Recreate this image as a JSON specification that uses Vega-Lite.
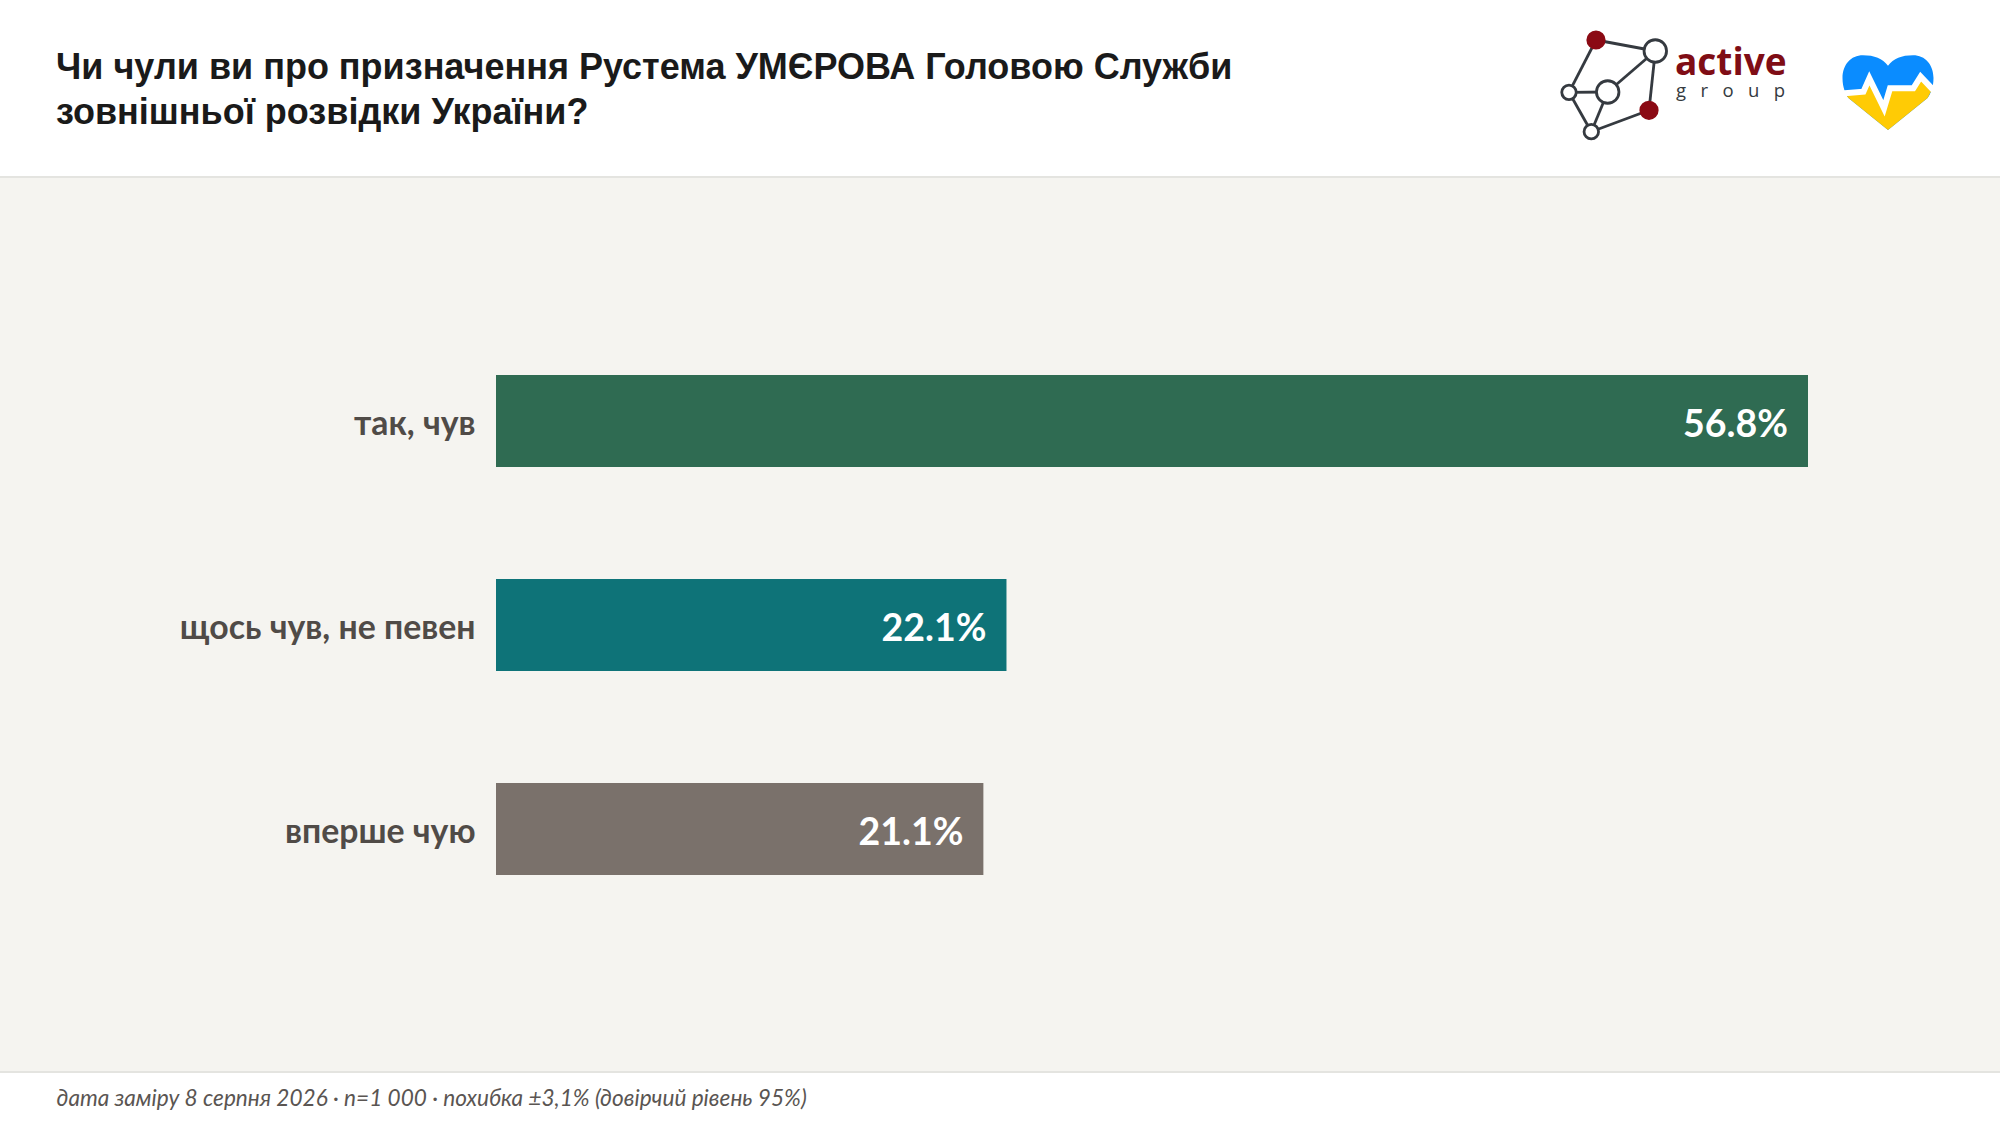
{
  "$schema": "https://vega.github.io/schema/vega-lite/v6.json",
  "width": 2000,
  "height": 893,
  "autosize": {"type": "none"},
  "padding": {"left": 0, "right": 0, "top": 178, "bottom": 55},
  "background": "#ffffff",
  "view": {"fill": "#f5f4f0", "stroke": null},
  "title": {
    "text": ["Чи чули ви про призначення Рустема УМЄРОВА Головою Служби", "зовнішньої розвідки України?"],
    "anchor": "start",
    "frame": "group",
    "dx": 56,
    "offset": -133.5,
    "baseline": "alphabetic",
    "font": "Liberation Sans",
    "fontSize": 36,
    "fontWeight": "bold",
    "lineHeight": 44.6,
    "color": "#1a1a1a"
  },
  "resolve": {"scale": {"x": "independent", "y": "independent"}},
  "layer": [
    {
      "data": {
        "values": [
          {"answer": "так, чув", "share": 0.568},
          {"answer": "щось чув, не певен", "share": 0.221},
          {"answer": "вперше чую", "share": 0.211}
        ]
      },
      "encoding": {
        "x": {
          "field": "share",
          "type": "quantitative",
          "scale": {"domain": [0, 0.568], "range": [496, 1808]},
          "axis": {
            "title": "дата заміру 8 серпня 2026 · n=1 000 · похибка ±3,1% (довірчий рівень 95%)",
            "titleX": 56,
            "titleY": 34,
            "titleAlign": "left",
            "titleBaseline": "alphabetic",
            "titleFont": "Lato",
            "titleFontStyle": "italic",
            "titleFontWeight": "normal",
            "titleFontSize": 22.6,
            "titleColor": "#5a5552",
            "labels": false,
            "ticks": false,
            "domain": false,
            "grid": false
          }
        },
        "y": {
          "field": "answer",
          "type": "nominal",
          "sort": null,
          "scale": {
            "domain": ["так, чув", "щось чув, не певен", "вперше чую"],
            "range": [141, 753],
            "paddingInner": 0.549,
            "paddingOuter": 0.2745
          },
          "axis": {
            "title": null,
            "offset": -496,
            "labelPadding": 21,
            "labelOffset": 4,
            "labelFont": "Lato",
            "labelFontWeight": "bold",
            "labelFontSize": 33.8,
            "labelColor": "#504b47",
            "labelLimit": 500,
            "ticks": false,
            "domain": false,
            "grid": false
          }
        }
      },
      "layer": [
        {
          "mark": {"type": "bar"},
          "encoding": {
            "color": {
              "field": "answer",
              "type": "nominal",
              "scale": {
                "domain": ["так, чув", "щось чув, не певен", "вперше чую"],
                "range": ["#2f6b52", "#0e7378", "#7a716b"]
              },
              "legend": null
            }
          }
        },
        {
          "mark": {
            "type": "text",
            "align": "right",
            "baseline": "middle",
            "dx": -20,
            "dy": 5,
            "font": "Lato",
            "fontWeight": "bold",
            "fontSize": 37.5,
            "color": "#ffffff"
          },
          "encoding": {"text": {"field": "share", "type": "quantitative", "format": ".1%"}}
        }
      ]
    },
    {
      "data": {"values": [{"edge": "top"}, {"edge": "bottom"}]},
      "mark": {"type": "rule", "color": "#e4e4e0", "strokeWidth": 2},
      "encoding": {
        "y": {
          "field": "edge",
          "type": "nominal",
          "scale": {"type": "point", "domain": ["top", "bottom"], "range": [-1, 894], "padding": 0},
          "axis": null
        }
      }
    },
    {
      "encoding": {
        "x": {"field": "x", "type": "quantitative", "scale": {"domain": [0, 450], "range": [1550, 2000]}, "axis": null},
        "y": {"field": "y", "type": "quantitative", "scale": {"domain": [0, 176], "range": [-178, -2]}, "axis": null}
      },
      "layer": [
        {
          "data": {
            "values": [
              {"x": 46, "y": 40, "x2": 105.3, "y2": 51},
              {"x": 46, "y": 40, "x2": 19, "y2": 92.3},
              {"x": 19, "y": 92.3, "x2": 57.7, "y2": 92},
              {"x": 19, "y": 92.3, "x2": 41.3, "y2": 131.7},
              {"x": 57.7, "y": 92, "x2": 105.3, "y2": 51},
              {"x": 57.7, "y": 92, "x2": 41.3, "y2": 131.7},
              {"x": 105.3, "y": 51, "x2": 99, "y2": 110.3},
              {"x": 99, "y": 110.3, "x2": 41.3, "y2": 131.7}
            ]
          },
          "mark": {"type": "rule", "color": "#353a40", "strokeWidth": 2.8},
          "encoding": {
            "x2": {"field": "x2"},
            "y2": {"field": "y2"}
          }
        },
        {
          "data": {
            "values": [
              {"x": 46, "y": 40, "node": "accent"},
              {"x": 105.3, "y": 51, "node": "large"},
              {"x": 19, "y": 92.3, "node": "small"},
              {"x": 57.7, "y": 92, "node": "large"},
              {"x": 99, "y": 110.3, "node": "accent"},
              {"x": 41.3, "y": 131.7, "node": "small"}
            ]
          },
          "mark": {"type": "point", "filled": true, "shape": "circle", "strokeWidth": 2.8, "opacity": 1},
          "encoding": {
            "size": {
              "field": "node",
              "type": "nominal",
              "scale": {"type": "ordinal", "domain": ["accent", "large", "small"], "range": [270, 506, 210]},
              "legend": null
            },
            "fill": {
              "field": "node",
              "type": "nominal",
              "scale": {"domain": ["accent", "large", "small"], "range": ["#8b0a14", "#ffffff", "#ffffff"]},
              "legend": null
            },
            "stroke": {
              "field": "node",
              "type": "nominal",
              "scale": {"domain": ["accent", "large", "small"], "range": ["#8b0a14", "#353a40", "#353a40"]},
              "legend": null
            }
          }
        },
        {
          "data": {"values": [{"x": 125, "y": 75, "label": "active"}]},
          "mark": {"type": "text", "align": "left", "baseline": "alphabetic", "font": "Open Sans", "fontWeight": "bold", "fontSize": 37, "color": "#7f0d15"},
          "encoding": {"text": {"field": "label"}}
        },
        {
          "data": {"values": [{"x": 126, "y": 97, "label": "g\u00a0\u00a0\u00a0r\u00a0\u00a0\u00a0o\u00a0\u00a0\u00a0u\u00a0\u00a0\u00a0p"}]},
          "mark": {"type": "text", "align": "left", "baseline": "alphabetic", "font": "Open Sans", "fontSize": 18.5, "color": "#353a40"},
          "encoding": {"text": {"field": "label"}}
        },
        {
          "data": {"values": [{"x": 338, "y": 92}]},
          "layer": [
            {
              "mark": {
                "type": "point",
                "filled": true,
                "opacity": 1,
                "size": 8281,
                "color": "#0a8cff",
                "shape": "M 0,-0.578 C 0.12,-0.74 0.3,-0.81 0.55,-0.81 C 0.82,-0.81 1,-0.6 1,-0.31 C 1,-0.1 0.93,0.05 0.87,0.13 L 0,0.835 L -0.87,0.13 C -0.93,0.05 -1,-0.1 -1,-0.31 C -1,-0.6 -0.82,-0.81 -0.55,-0.81 C -0.3,-0.81 -0.12,-0.74 0,-0.578 Z"
              }
            },
            {
              "mark": {
                "type": "point",
                "filled": true,
                "opacity": 1,
                "size": 8281,
                "color": "#ffcb05",
                "shape": "M -0.945,0.03 L -0.54,-0.007 L -0.41,-0.3 L -0.088,0.36 L 0.044,-0.08 L 0.557,-0.08 L 0.718,-0.337 L 0.96,-0.044 L 0.87,0.13 L 0,0.835 L -0.87,0.13 Z"
              }
            },
            {
              "mark": {
                "type": "point",
                "filled": false,
                "opacity": 1,
                "size": 8281,
                "color": "#ffffff",
                "strokeWidth": 6,
                "shape": "M -1.02,0.035 L -0.54,-0.007 L -0.41,-0.3 L -0.088,0.36 L 0.044,-0.08 L 0.557,-0.08 L 0.718,-0.337 L 1.02,-0.02"
              }
            }
          ]
        }
      ]
    }
  ]
}
